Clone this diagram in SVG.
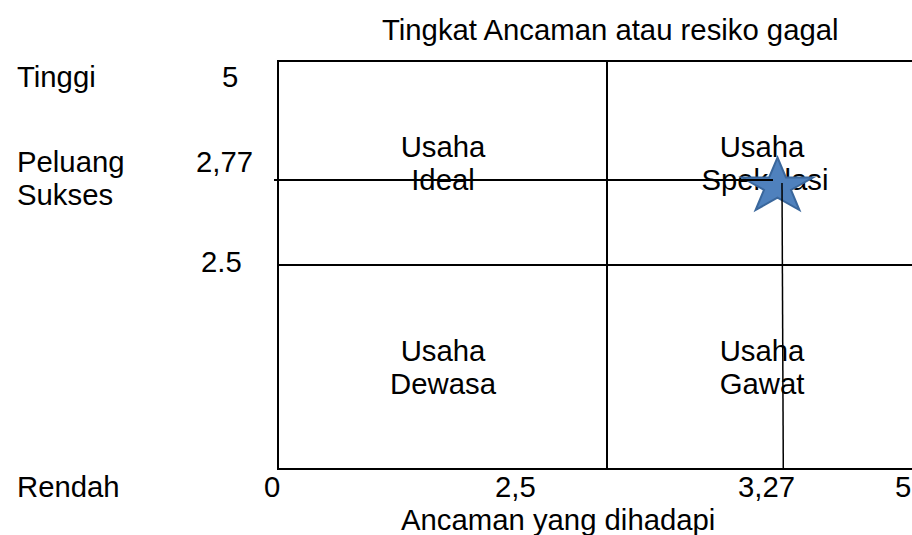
<svg xmlns="http://www.w3.org/2000/svg" width="912" height="535" viewBox="0 0 912 535">
  <style>
    text { font-family: "Liberation Sans", Arial, sans-serif; font-size: 29.3px; fill: #000; }
    .mid { text-anchor: middle; }
    .grid { stroke: #000; stroke-width: 2; fill: none; }
    .thin { stroke: #000; stroke-width: 1.5; fill: none; }
    .star { fill: #4F81BD; stroke: #3A679C; stroke-width: 2; stroke-linejoin: miter; }
  </style>
  <rect width="912" height="535" fill="#fff"/>

  <g id="title"><text x="382" y="40">Tingkat Ancaman atau resiko gagal</text></g>

  <g id="y-axis-labels">
    <text x="17" y="87">Tinggi</text>
    <text x="222" y="87">5</text>
    <text x="17" y="172">Peluang</text>
    <text x="17" y="205">Sukses</text>
    <text x="196" y="172">2,77</text>
    <text x="201" y="272">2.5</text>
    <text x="17" y="497">Rendah</text>
  </g>

  <g id="x-axis-labels">
    <text x="264" y="497">0</text>
    <text x="495" y="497">2,5</text>
    <text x="738" y="497">3,27</text>
    <text x="895" y="497">5</text>
    <text x="401" y="530">Ancaman yang dihadapi</text>
  </g>

  <g id="grid">
    <path class="grid" d="M278 60 V470 M277 61 H912 M277 469 H912 M278 265 H912 M607 61 V469"/>
  </g>

  <g id="quadrant-ideal">
    <text class="mid" x="443" y="157">Usaha</text>
    <text class="mid" x="443" y="190">Ideal</text>
  </g>
  <g id="quadrant-spekulasi">
    <text class="mid" x="762" y="157">Usaha</text>
    <text class="mid" x="765" y="190">Spekulasi</text>
  </g>
  <g id="quadrant-dewasa">
    <text class="mid" x="443" y="361">Usaha</text>
    <text class="mid" x="443" y="394">Dewasa</text>
  </g>
  <g id="quadrant-gawat">
    <text class="mid" x="762" y="361">Usaha</text>
    <text class="mid" x="762" y="394">Gawat</text>
  </g>

  <g id="marker-star">
    <polygon class="star" points="777.5,157.5 785.9,177.5 813,177.5 791,189.9 799.4,210 777.5,197.6 755.6,210 764,189.9 742,177.5 769.1,177.5"/>
  </g>

  <g id="connectors">
    <line class="grid" x1="274" y1="180" x2="773" y2="180"/>
    <line class="thin" x1="782" y1="183" x2="783.3" y2="469"/>
  </g>
</svg>
